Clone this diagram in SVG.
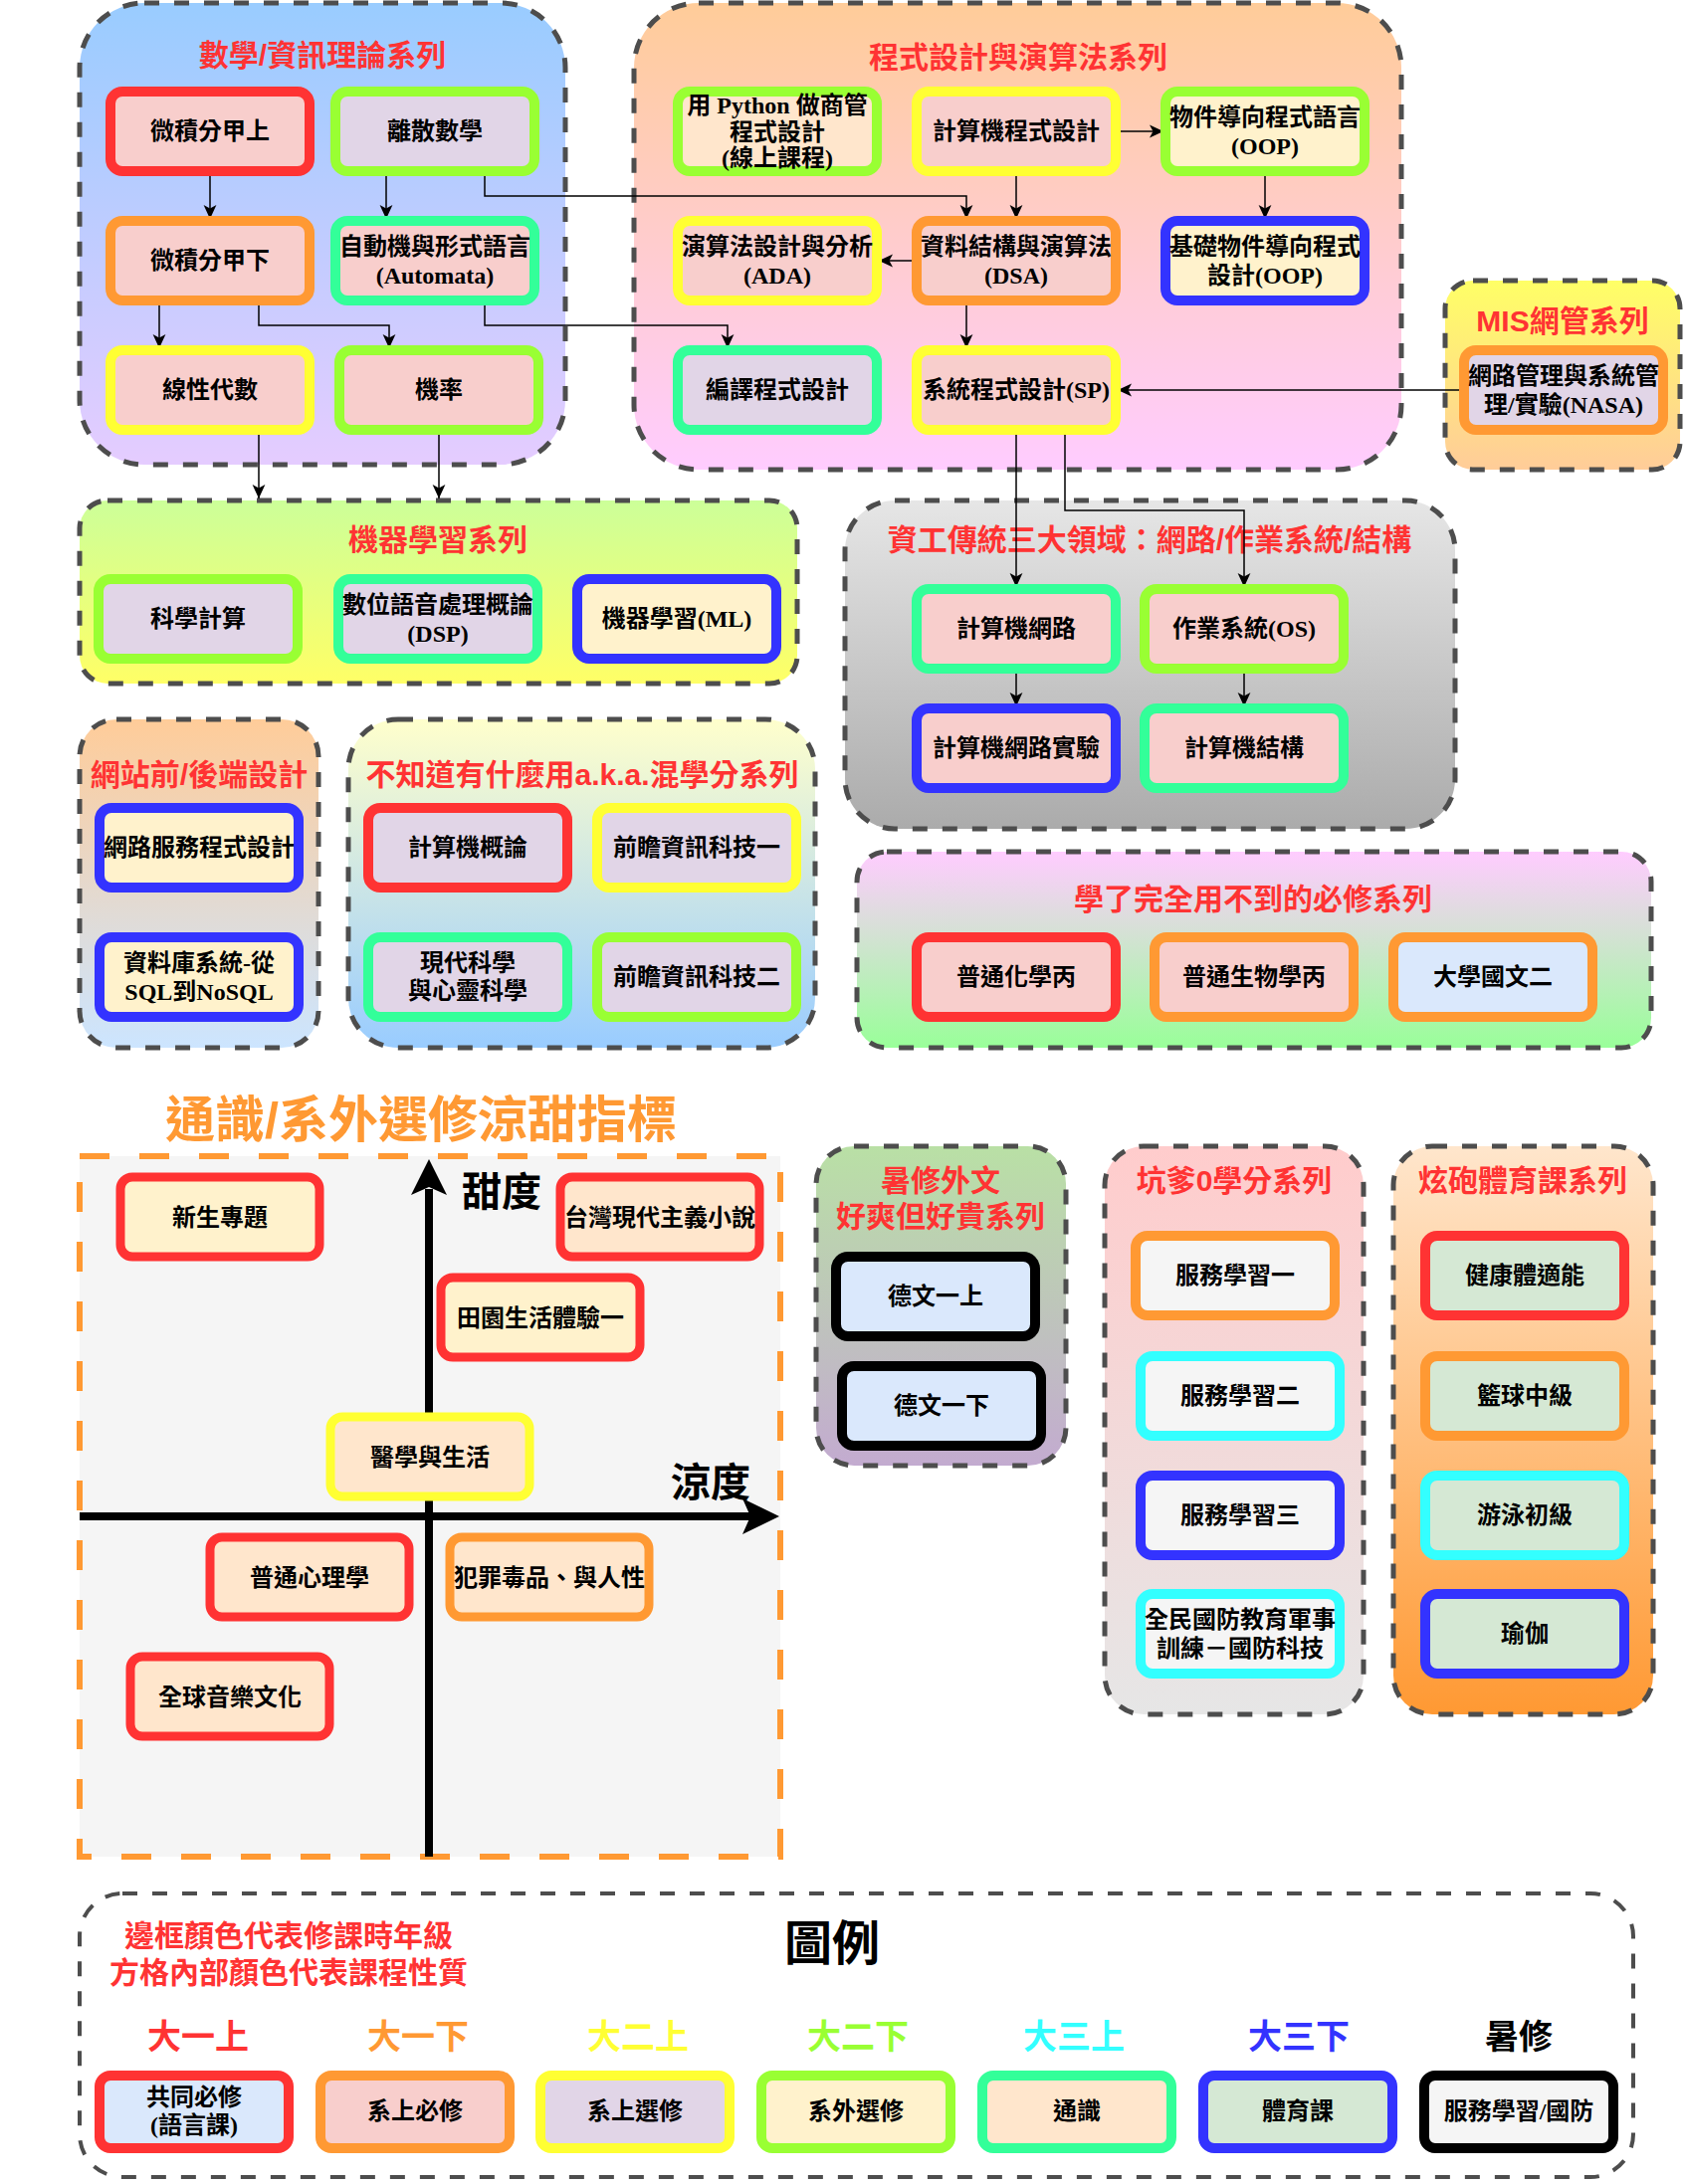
<svg xmlns="http://www.w3.org/2000/svg" width="1693" height="2195" viewBox="0 0 1693 2195">
<style>
.c{stroke:#4D4D4D;stroke-width:5;stroke-dasharray:15 15}
.n{stroke-width:10}
.q{stroke-width:9}
.t{font-family:"Liberation Serif","Noto Sans CJK TC",serif;font-weight:bold;font-size:24px;text-anchor:middle;dominant-baseline:central;fill:#000}
.s{font-family:"Liberation Sans","Noto Sans CJK TC",sans-serif;font-weight:bold;font-size:24px;text-anchor:middle;dominant-baseline:central;fill:#000}
.h{font-family:"Liberation Sans","Noto Sans CJK TC",sans-serif;font-weight:bold;font-size:30px;text-anchor:middle;dominant-baseline:central;fill:#FF3333}
.e{fill:none;stroke:#000;stroke-width:1.5;marker-end:url(#arr)}
.R{stroke:#FF3333}.O{stroke:#FF9933}.Y{stroke:#FFFF33}.G{stroke:#99FF33}.M{stroke:#33FF99}.C{stroke:#33FFFF}.B{stroke:#3333FF}.K{stroke:#000000}
.f1{fill:#f8cecc}.f2{fill:#e1d5e7}.f3{fill:#fff2cc}.f4{fill:#ffe6cc}.f5{fill:#dae8fc}.f6{fill:#d5e8d4}.f7{fill:#f5f5f5}
</style>
<defs>
<marker id="arr" markerUnits="userSpaceOnUse" markerWidth="14" markerHeight="14" viewBox="0 0 12 12" refX="12" refY="6" orient="auto"><path d="M0,0.5 L12,6 L0,11.5 L3,6 Z" fill="#000"/></marker>
<linearGradient id="g1" x1="0" y1="0" x2="0" y2="1"><stop offset="0" stop-color="#99CCFF"/><stop offset="1" stop-color="#E5CCFF"/></linearGradient>
<linearGradient id="g2" x1="0" y1="0" x2="0" y2="1"><stop offset="0" stop-color="#FFCC99"/><stop offset="1" stop-color="#FFCCFF"/></linearGradient>
<linearGradient id="g3" x1="0" y1="0" x2="0" y2="1"><stop offset="0" stop-color="#FFFF66"/><stop offset="1" stop-color="#FFCC99"/></linearGradient>
<linearGradient id="g4" x1="0" y1="0" x2="0" y2="1"><stop offset="0" stop-color="#CCFF99"/><stop offset="1" stop-color="#FFFF66"/></linearGradient>
<linearGradient id="g5" x1="0" y1="0" x2="0" y2="1"><stop offset="0" stop-color="#E6E6E6"/><stop offset="1" stop-color="#ABABAB"/></linearGradient>
<linearGradient id="g6" x1="0" y1="0" x2="0" y2="1"><stop offset="0" stop-color="#FFCC99"/><stop offset="1" stop-color="#CCE5FF"/></linearGradient>
<linearGradient id="g7" x1="0" y1="0" x2="0" y2="1"><stop offset="0" stop-color="#FFFFCC"/><stop offset="1" stop-color="#99CCFF"/></linearGradient>
<linearGradient id="g8" x1="0" y1="0" x2="0" y2="1"><stop offset="0" stop-color="#FFCCFF"/><stop offset="1" stop-color="#99FF99"/></linearGradient>
<linearGradient id="g9" x1="0" y1="0" x2="0" y2="1"><stop offset="0" stop-color="#B9E0A5"/><stop offset="1" stop-color="#C3ABD0"/></linearGradient>
<linearGradient id="g10" x1="0" y1="0" x2="0" y2="1"><stop offset="0" stop-color="#FFCCCC"/><stop offset="1" stop-color="#E6E6E6"/></linearGradient>
<linearGradient id="g11" x1="0" y1="0" x2="0" y2="1"><stop offset="0" stop-color="#FFE6CC"/><stop offset="1" stop-color="#FF9933"/></linearGradient>
</defs>
<rect width="1693" height="2195" fill="#ffffff"/>

<g id="containers">
<g id="grp-math"><rect class="c" x="80" y="3" width="488" height="464" rx="65" fill="url(#g1)"/><text class="h" x="324" y="55">數學/資訊理論系列</text></g>
<g id="grp-prog"><rect class="c" x="637" y="3" width="771" height="469" rx="65" fill="url(#g2)"/><text class="h" x="1023" y="57">程式設計與演算法系列</text></g>
<g id="grp-mis"><rect class="c" x="1452" y="282" width="236" height="190" rx="28" fill="url(#g3)"/><text class="h" x="1570" y="322">MIS網管系列</text></g>
<g id="grp-ml"><rect class="c" x="80" y="503" width="721" height="184" rx="28" fill="url(#g4)"/><text class="h" x="440" y="542">機器學習系列</text></g>
<g id="grp-net"><rect class="c" x="849" y="503" width="613" height="330" rx="50" fill="url(#g5)"/><text class="h" x="1155" y="542">資工傳統三大領域：網路/作業系統/結構</text></g>
<g id="grp-web"><rect class="c" x="80" y="723" width="240" height="330" rx="37" fill="url(#g6)"/><text class="h" x="200" y="778">網站前/後端設計</text></g>
<g id="grp-mix"><rect class="c" x="350" y="723" width="469" height="330" rx="50" fill="url(#g7)"/><text class="h" x="585" y="778">不知道有什麼用a.k.a.混學分系列</text></g>
<g id="grp-req"><rect class="c" x="861" y="856" width="798" height="197" rx="30" fill="url(#g8)"/><text class="h" x="1259" y="903">學了完全用不到的必修系列</text></g>
<g id="grp-summer"><rect class="c" x="820" y="1152" width="251" height="321" rx="38" fill="url(#g9)"/><text class="h" x="945" y="1186">暑修外文</text><text class="h" x="945" y="1222">好爽但好貴系列</text></g>
<g id="grp-zero"><rect class="c" x="1110" y="1152" width="260" height="571" rx="39" fill="url(#g10)"/><text class="h" x="1240" y="1186">坑爹0學分系列</text></g>
<g id="grp-pe"><rect class="c" x="1400" y="1152" width="261" height="571" rx="39" fill="url(#g11)"/><text class="h" x="1530" y="1186">炫砲體育課系列</text></g>
</g>

<g id="connectors">
<path class="e" d="M211,172 V220"/>
<path class="e" d="M388,172 V220"/>
<path class="e" d="M487,172 V197 H971 V220"/>
<path class="e" d="M160,302 V350"/>
<path class="e" d="M260,302 V327 H391 V350"/>
<path class="e" d="M487,302 V327 H731 V350"/>
<path class="e" d="M260,432 V501"/>
<path class="e" d="M441,432 V501"/>
<path class="e" d="M1121,132 H1169"/>
<path class="e" d="M1021,172 V220"/>
<path class="e" d="M1271,172 V220"/>
<path class="e" d="M921,262 H883"/>
<path class="e" d="M971,302 V350"/>
<path class="e" d="M1471,392 H1123"/>
<path class="e" d="M1021,432 V590"/>
<path class="e" d="M1070,432 V513 H1250 V590"/>
<path class="e" d="M1021,672 V710"/>
<path class="e" d="M1250,672 V710"/>
</g>

<g id="nodes">
<g id="n-calc1"><rect class="n R f1" x="111" y="92" width="200" height="80" rx="12"/><text class="t" x="211" y="132">微積分甲上</text></g>
<g id="n-disc"><rect class="n G f2" x="337" y="92" width="200" height="80" rx="12"/><text class="t" x="437" y="132">離散數學</text></g>
<g id="n-calc2"><rect class="n O f1" x="111" y="222" width="200" height="80" rx="12"/><text class="t" x="211" y="262">微積分甲下</text></g>
<g id="n-auto"><rect class="n M f1" x="337" y="222" width="200" height="80" rx="12"/><text class="t" x="437" y="248">自動機與形式語言</text><text class="t" x="437" y="277">(Automata)</text></g>
<g id="n-linalg"><rect class="n Y f1" x="111" y="352" width="200" height="80" rx="12"/><text class="t" x="211" y="392">線性代數</text></g>
<g id="n-prob"><rect class="n G f1" x="341" y="352" width="200" height="80" rx="12"/><text class="t" x="441" y="392">機率</text></g>

<g id="n-py"><rect class="n G f4" x="681" y="92" width="200" height="80" rx="12"/><text class="t" x="781" y="106">用 Python 做商管</text><text class="t" x="781" y="133">程式設計</text><text class="t" x="781" y="159">(線上課程)</text></g>
<g id="n-cp"><rect class="n Y f1" x="921" y="92" width="200" height="80" rx="12"/><text class="t" x="1021" y="132">計算機程式設計</text></g>
<g id="n-oop"><rect class="n G f3" x="1171" y="92" width="200" height="80" rx="12"/><text class="t" x="1271" y="118">物件導向程式語言</text><text class="t" x="1271" y="147">(OOP)</text></g>
<g id="n-ada"><rect class="n Y f1" x="681" y="222" width="200" height="80" rx="12"/><text class="t" x="781" y="248">演算法設計與分析</text><text class="t" x="781" y="277">(ADA)</text></g>
<g id="n-dsa"><rect class="n O f1" x="921" y="222" width="200" height="80" rx="12"/><text class="t" x="1021" y="248">資料結構與演算法</text><text class="t" x="1021" y="277">(DSA)</text></g>
<g id="n-boop"><rect class="n B f3" x="1171" y="222" width="200" height="80" rx="12"/><text class="t" x="1271" y="248">基礎物件導向程式</text><text class="t" x="1271" y="277">設計(OOP)</text></g>
<g id="n-comp"><rect class="n M f2" x="681" y="352" width="200" height="80" rx="12"/><text class="t" x="781" y="392">編譯程式設計</text></g>
<g id="n-sp"><rect class="n Y f1" x="921" y="352" width="200" height="80" rx="12"/><text class="t" x="1021" y="392">系統程式設計(SP)</text></g>

<g id="n-nasa"><rect class="n O f2" x="1471" y="352" width="200" height="80" rx="12"/><text class="t" x="1571" y="378">網路管理與系統管</text><text class="t" x="1571" y="407">理/實驗(NASA)</text></g>

<g id="n-sci"><rect class="n G f2" x="99" y="582" width="200" height="80" rx="12"/><text class="t" x="199" y="622">科學計算</text></g>
<g id="n-dsp"><rect class="n M f2" x="340" y="582" width="200" height="80" rx="12"/><text class="t" x="440" y="608">數位語音處理概論</text><text class="t" x="440" y="637">(DSP)</text></g>
<g id="n-ml"><rect class="n B f3" x="580" y="582" width="200" height="80" rx="12"/><text class="t" x="680" y="622">機器學習(ML)</text></g>

<g id="n-cn"><rect class="n M f1" x="921" y="592" width="200" height="80" rx="12"/><text class="t" x="1021" y="632">計算機網路</text></g>
<g id="n-os"><rect class="n G f1" x="1150" y="592" width="200" height="80" rx="12"/><text class="t" x="1250" y="632">作業系統(OS)</text></g>
<g id="n-cnl"><rect class="n B f1" x="921" y="712" width="200" height="80" rx="12"/><text class="t" x="1021" y="752">計算機網路實驗</text></g>
<g id="n-ca"><rect class="n M f1" x="1150" y="712" width="200" height="80" rx="12"/><text class="t" x="1250" y="752">計算機結構</text></g>

<g id="n-websvc"><rect class="n B f3" x="100" y="812" width="200" height="80" rx="12"/><text class="t" x="200" y="852">網路服務程式設計</text></g>
<g id="n-db"><rect class="n B f3" x="100" y="942" width="200" height="80" rx="12"/><text class="t" x="200" y="968">資料庫系統-從</text><text class="t" x="200" y="997">SQL到NoSQL</text></g>

<g id="n-intro"><rect class="n R f2" x="370" y="812" width="200" height="80" rx="12"/><text class="t" x="470" y="852">計算機概論</text></g>
<g id="n-fut1"><rect class="n Y f2" x="600" y="812" width="200" height="80" rx="12"/><text class="t" x="700" y="852">前瞻資訊科技一</text></g>
<g id="n-mod"><rect class="n M f2" x="370" y="942" width="200" height="80" rx="12"/><text class="t" x="470" y="968">現代科學</text><text class="t" x="470" y="996">與心靈科學</text></g>
<g id="n-fut2"><rect class="n G f2" x="600" y="942" width="200" height="80" rx="12"/><text class="t" x="700" y="982">前瞻資訊科技二</text></g>

<g id="n-chem"><rect class="n R f1" x="921" y="942" width="200" height="80" rx="12"/><text class="t" x="1021" y="982">普通化學丙</text></g>
<g id="n-bio"><rect class="n O f1" x="1160" y="942" width="200" height="80" rx="12"/><text class="t" x="1260" y="982">普通生物學丙</text></g>
<g id="n-chi"><rect class="n O f5" x="1400" y="942" width="200" height="80" rx="12"/><text class="t" x="1500" y="982">大學國文二</text></g>

<g id="n-de1"><rect class="n K f5" x="840" y="1263" width="200" height="80" rx="12"/><text class="t" x="940" y="1303">德文一上</text></g>
<g id="n-de2"><rect class="n K f5" x="846" y="1373" width="200" height="80" rx="12"/><text class="t" x="946" y="1413">德文一下</text></g>

<g id="n-sl1"><rect class="n O f7" x="1141" y="1242" width="200" height="80" rx="12"/><text class="t" x="1241" y="1282">服務學習一</text></g>
<g id="n-sl2"><rect class="n C f7" x="1146" y="1363" width="200" height="80" rx="12"/><text class="t" x="1246" y="1403">服務學習二</text></g>
<g id="n-sl3"><rect class="n B f7" x="1146" y="1483" width="200" height="80" rx="12"/><text class="t" x="1246" y="1523">服務學習三</text></g>
<g id="n-def"><rect class="n C f7" x="1146" y="1602" width="200" height="80" rx="12"/><text class="t" x="1246" y="1628">全民國防教育軍事</text><text class="t" x="1246" y="1657">訓練－國防科技</text></g>

<g id="n-fit"><rect class="n R f6" x="1432" y="1242" width="200" height="80" rx="12"/><text class="t" x="1532" y="1282">健康體適能</text></g>
<g id="n-bb"><rect class="n O f6" x="1432" y="1363" width="200" height="80" rx="12"/><text class="t" x="1532" y="1403">籃球中級</text></g>
<g id="n-swim"><rect class="n C f6" x="1432" y="1483" width="200" height="80" rx="12"/><text class="t" x="1532" y="1523">游泳初級</text></g>
<g id="n-yoga"><rect class="n B f6" x="1432" y="1602" width="200" height="80" rx="12"/><text class="t" x="1532" y="1642">瑜伽</text></g>
</g>

<g id="quadrant">
<text x="423" y="1126" font-family="Liberation Sans,Noto Sans CJK TC,sans-serif" font-weight="bold" font-size="50" fill="#FF9933" text-anchor="middle" dominant-baseline="central">通識/系外選修涼甜指標</text>
<rect x="80" y="1162" width="704" height="704" fill="#f5f5f5" stroke="#FF9933" stroke-width="6" stroke-dasharray="30 30"/>
<line x1="431" y1="1866" x2="431" y2="1195" stroke="#000" stroke-width="8"/>
<polygon points="431,1165 449,1201 431,1193 413,1201" fill="#000"/>
<line x1="80" y1="1524" x2="756" y2="1524" stroke="#000" stroke-width="8"/>
<polygon points="783,1524 746,1542 754,1524 746,1506" fill="#000"/>
<text x="504" y="1198" font-family="Liberation Sans,Noto Sans CJK TC,sans-serif" font-weight="bold" font-size="40" text-anchor="middle" dominant-baseline="central">甜度</text>
<text x="714" y="1490" font-family="Liberation Sans,Noto Sans CJK TC,sans-serif" font-weight="bold" font-size="40" text-anchor="middle" dominant-baseline="central">涼度</text>
<g id="q-fresh"><rect class="q R f3" x="121" y="1183" width="200" height="80" rx="12"/><text class="s" x="221" y="1223">新生專題</text></g>
<g id="q-novel"><rect class="q R f4" x="563" y="1183" width="200" height="80" rx="12"/><text class="s" x="663" y="1223">台灣現代主義小說</text></g>
<g id="q-farm"><rect class="q R f3" x="443" y="1284" width="200" height="80" rx="12"/><text class="s" x="543" y="1324">田園生活體驗一</text></g>
<g id="q-med"><rect class="q Y f4" x="332" y="1424" width="200" height="80" rx="12"/><text class="s" x="432" y="1464">醫學與生活</text></g>
<g id="q-psy"><rect class="q R f4" x="211" y="1545" width="200" height="80" rx="12"/><text class="s" x="311" y="1585">普通心理學</text></g>
<g id="q-crime"><rect class="q O f4" x="452" y="1545" width="200" height="80" rx="12"/><text class="s" x="552" y="1585">犯罪毒品、與人性</text></g>
<g id="q-music"><rect class="q R f4" x="131" y="1665" width="200" height="80" rx="12"/><text class="s" x="231" y="1705">全球音樂文化</text></g>
</g>

<g id="legend">
<rect x="80" y="1903" width="1561" height="285" rx="43" fill="#ffffff" stroke="#4D4D4D" stroke-width="4" stroke-dasharray="15 15"/>
<text class="h" x="290" y="1945">邊框顏色代表修課時年級</text>
<text class="h" x="290" y="1982">方格內部顏色代表課程性質</text>
<text x="836" y="1953" font-family="Liberation Sans,Noto Sans CJK TC,sans-serif" font-weight="bold" font-size="48" text-anchor="middle" dominant-baseline="central">圖例</text>
<g font-family="Liberation Sans,Noto Sans CJK TC,sans-serif" font-weight="bold" font-size="34" text-anchor="middle" dominant-baseline="central">
<text x="199" y="2047" fill="#FF3333">大一上</text>
<text x="420" y="2047" fill="#FF9933">大一下</text>
<text x="641" y="2047" fill="#FFFF33">大二上</text>
<text x="862" y="2047" fill="#99FF33">大二下</text>
<text x="1079" y="2047" fill="#33FFFF">大三上</text>
<text x="1305" y="2047" fill="#3333FF">大三下</text>
<text x="1526" y="2047" fill="#000000">暑修</text>
</g>
<g id="lg1"><rect class="n R f5" x="100" y="2086" width="190" height="73" rx="11"/><text class="t" x="195" y="2108">共同必修</text><text class="t" x="195" y="2136">(語言課)</text></g>
<g id="lg2"><rect class="n O f1" x="322" y="2086" width="190" height="73" rx="11"/><text class="t" x="417" y="2122">系上必修</text></g>
<g id="lg3"><rect class="n Y f2" x="543" y="2086" width="190" height="73" rx="11"/><text class="t" x="638" y="2122">系上選修</text></g>
<g id="lg4"><rect class="n G f3" x="765" y="2086" width="190" height="73" rx="11"/><text class="t" x="860" y="2122">系外選修</text></g>
<g id="lg5"><rect class="n M f4" x="987" y="2086" width="190" height="73" rx="11"/><text class="t" x="1082" y="2122">通識</text></g>
<g id="lg6"><rect class="n B f6" x="1209" y="2086" width="190" height="73" rx="11"/><text class="t" x="1304" y="2122">體育課</text></g>
<g id="lg7"><rect class="n K f7" x="1431" y="2086" width="190" height="73" rx="11"/><text class="t" x="1526" y="2122">服務學習/國防</text></g>
</g>
</svg>
